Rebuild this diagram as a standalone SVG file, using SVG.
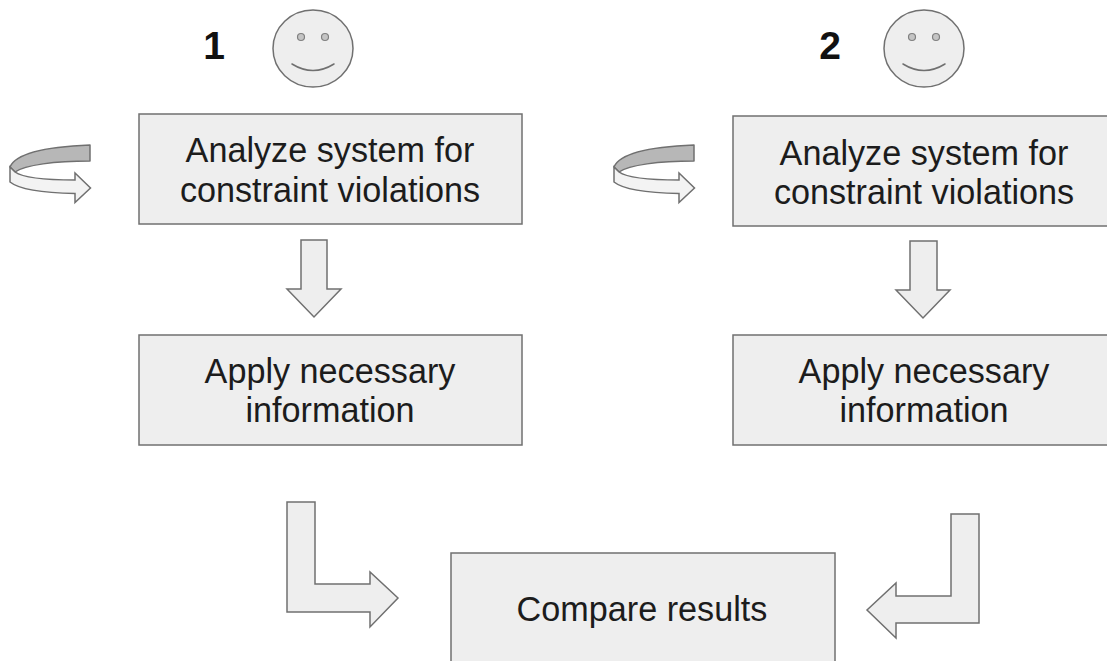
<svg xmlns="http://www.w3.org/2000/svg" width="1107" height="661" viewBox="0 0 1107 661">
<style>
.s{fill:#eeeeee;stroke:#707070;stroke-width:1.5;stroke-linejoin:miter}
.t{font-family:"Liberation Sans",Arial,sans-serif;font-size:34.2px;fill:#1c1c1c;text-anchor:middle}
.n{font-family:"Liberation Sans",Arial,sans-serif;font-size:39px;font-weight:bold;fill:#111111;text-anchor:middle}
.e{fill:#c4c4c4;stroke:#808080;stroke-width:1.2}
.m{fill:none;stroke:#707070;stroke-width:1.5;stroke-linecap:round}
.d{fill:#b7b7b7;stroke:#707070;stroke-width:1.5;stroke-linejoin:round}
.l{fill:#f3f3f3;stroke:#707070;stroke-width:1.5;stroke-linejoin:miter}
</style>
<defs>
<g id="face">
<ellipse class="s" cx="40" cy="38.5" rx="40" ry="38.5"/>
<ellipse class="e" cx="28" cy="27" rx="3.5" ry="3.5"/>
<ellipse class="e" cx="52" cy="27" rx="3.5" ry="3.5"/>
<path class="m" d="M19 54Q40 67 61 54"/>
</g>
<g id="turn">
<path class="d" d="M80 0V16C45 16 15 20 5 27L0 22C5 10 30 2 80 0Z"/>
<path class="l" d="M0 22V37C10 45 35 48 65 48.5V57.5L80.5 43L65 28V35C35 35 12 32 5 27Z"/>
</g>
</defs>
<g id="connectors">
<path id="down-1" class="s" d="M301 240H327V289H341L314 317L287 289H301Z"/>
<path id="down-2" class="s" d="M910 241H937V290H950L923 318L896 290H910Z"/>
<path id="bend-1" class="s" d="M287 502H315V584H370V572L398 598L370 627V612H287Z"/>
<path id="bend-2" class="s" d="M951 514H979V623H896V638L867 610L896 583V596H951Z"/>
<use id="loop-1" href="#turn" x="10" y="145"/>
<use id="loop-2" href="#turn" x="614" y="145"/>
</g>
<g id="actor-1"><use href="#face" x="273" y="10"/><text class="n" x="214" y="59">1</text></g>
<g id="actor-2"><use href="#face" x="884" y="10"/><text class="n" x="830" y="59">2</text></g>
<g id="analyze-1"><rect class="s" x="139" y="114" width="383" height="110"/><text class="t" x="330" y="162">Analyze system for</text><text class="t" x="330" y="202">constraint violations</text></g>
<g id="analyze-2"><rect class="s" x="733" y="116" width="375" height="110"/><text class="t" x="924" y="165">Analyze system for</text><text class="t" x="924" y="204">constraint violations</text></g>
<g id="apply-1"><rect class="s" x="139" y="335" width="383" height="110"/><text class="t" x="330" y="383">Apply necessary</text><text class="t" x="330" y="422">information</text></g>
<g id="apply-2"><rect class="s" x="733" y="335" width="375" height="110"/><text class="t" x="924" y="383">Apply necessary</text><text class="t" x="924" y="422">information</text></g>
<g id="compare"><rect class="s" x="451" y="553" width="384" height="110"/><text class="t" x="642" y="621">Compare results</text></g>
</svg>
